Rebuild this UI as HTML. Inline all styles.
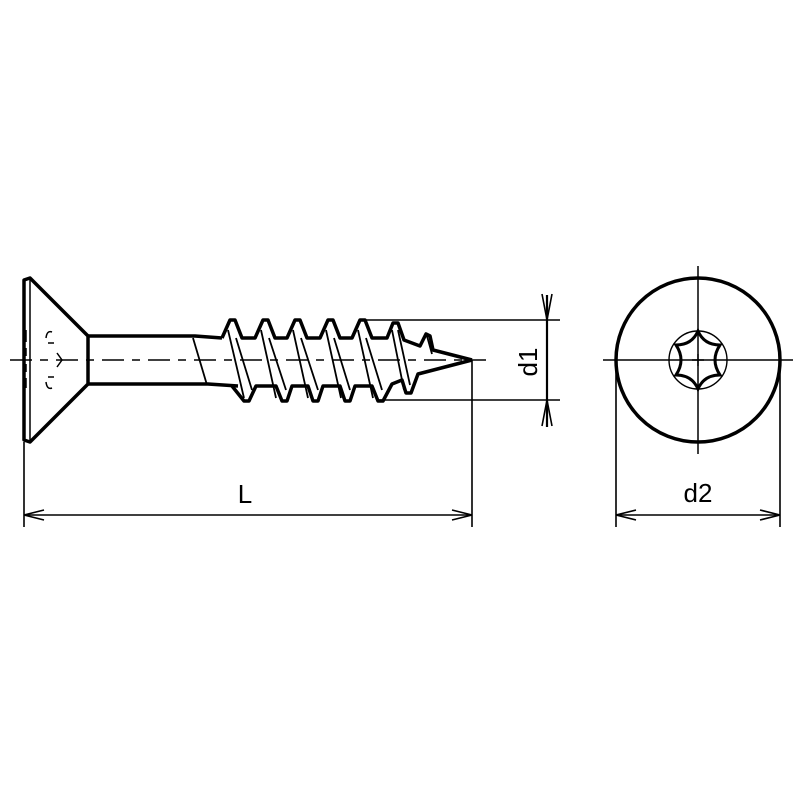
<!DOCTYPE html>
<html><head><style>body{margin:0;background:#fff}svg{display:block}</style></head>
<body>
<svg width="800" height="800" viewBox="0 0 800 800" xmlns="http://www.w3.org/2000/svg" fill="none" stroke="#000" font-family="Liberation Sans, sans-serif">
<g stroke-width="1.5">
<path d="M10 360 H486" stroke-dasharray="22 8 8 8"/>
<path d="M603 360 H793 M698 266 V454"/>
</g>
<g stroke-width="3.5" stroke-linejoin="round">
<path d="M24 280 L30 278 L88 336 L88 384 L30 442 L24 440 Z"/>
<path d="M30 278 V442" stroke-width="1.5"/>
<path d="M88 336 H195 L222 338 M88 384 H208 L238 386"/>
<path d="M88 336 V384" stroke-width="1.5"/>
</g>
<g stroke-width="1.5">
<path d="M26 330 v12 M26 348 v8 M26 364 v8 M26 378 v10"/>
<path d="M52 332 q-5 -2 -6 6 M48 343 h6 M57 353 l5 7 l-5 7 M48 377 h6 M46 382 q1 8 6 6"/>
</g>
<path d="M193 338 L207 385" stroke-width="1.8"/>
<g stroke-width="3.5" stroke-linejoin="round">
<path d="M222 338 L230 320 L235 320 L242 338 H255 L263 320 L268 320 L275 338 H287 L295 320 L300 320 L307 338 H320 L328 320 L333 320 L340 338 H352 L360 320 L365 320 L372 338 H387 L393 323 L398 323 L404 340 L420 346 L426 334 L430 336 L433 350 L472 360"/>
<path d="M232 386 L244 401 L249 401 L256 386 H276 L282 401 L287 401 L292 386 H308 L313 401 L318 401 L323 386 H340 L345 401 L350 401 L355 386 H372 L378 401 L383 401 L392 384 L402 380 L406 393 L411 393 L418 374 L472 360"/>
</g>
<g stroke-width="1.8">
<path d="M228 330 L244 398 M236 338 L252 390 M261 330 L276 398 M269 338 L286 390 M293 330 L308 398 M301 338 L318 390 M326 330 L341 398 M334 338 L350 390 M358 330 L373 398 M366 338 L382 390 M392 330 L404 390 M398 330 L410 385 M427 336 L432 354"/>
</g>
<g stroke-width="1.6">
<path d="M360 320 H560 M378 400 H560"/>
<path d="M547 295 V427" stroke-width="2.2"/>
<path d="M542 294 L547 320 L552 294 M542 426 L547 400 L552 426"/>
</g>
<text x="0" y="0" transform="translate(537 362) rotate(-90)" font-size="26" fill="#000" stroke="none" text-anchor="middle">d1</text>
<g stroke-width="1.6">
<path d="M24 442 V527 M472 360 V527"/>
<path d="M24 515 H472"/>
<path d="M44 510 L24 515 L44 520 M452 510 L472 515 L452 520"/>
</g>
<text x="245" y="503" font-size="26" fill="#000" stroke="none" text-anchor="middle">L</text>
<circle cx="698" cy="360" r="82" stroke-width="3.5"/>
<circle cx="698" cy="360" r="29" stroke-width="1.4"/>
<path d="M698 331 Q704 345 720 345 Q710 360 720 375 Q704 375 698 389 Q692 375 676 375 Q686 360 676 345 Q692 345 698 331 Z" stroke-width="3"/>
<path d="M692 360 h12 M698 354 v12" stroke-width="1.4"/>
<g stroke-width="1.6">
<path d="M616 362 V527 M780 362 V527"/>
<path d="M616 515 H780"/>
<path d="M636 510 L616 515 L636 520 M760 510 L780 515 L760 520"/>
</g>
<text x="698" y="502" font-size="26" fill="#000" stroke="none" text-anchor="middle">d2</text>
</svg>
</body></html>
